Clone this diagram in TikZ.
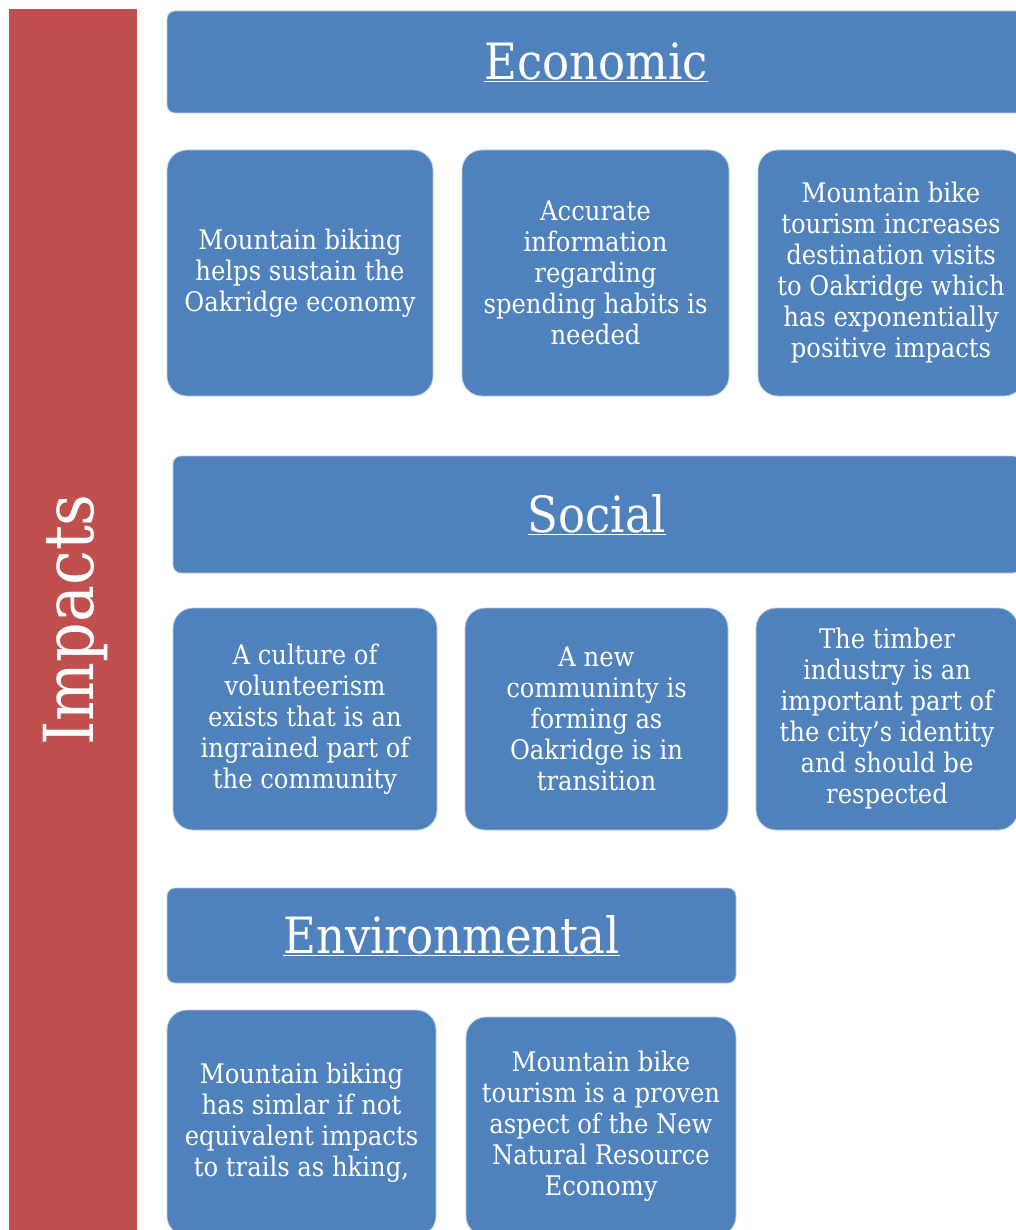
\documentclass[tikz,border=0pt]{standalone}
\usepackage{fontspec}
\setmainfont{DejaVu Serif Condensed}
\definecolor{blueA}{HTML}{4F81BD}
\definecolor{blueEdge}{HTML}{B9CDE5}
\definecolor{redA}{HTML}{C0504D}
\begin{document}
\begin{tikzpicture}[x=1pt,y=-1pt,
  boxbase/.style={fill=blueA, draw=blueEdge, line width=0.8pt, text=white, align=center, inner sep=0pt},
  header/.style={boxbase, rounded corners=8pt, font=\fontsize{50}{58}\selectfont},
  item/.style={boxbase, rounded corners=20pt, font=\fontsize{27}{31}\selectfont},
  bar/.style={fill=redA, draw=none, inner sep=0pt},
  bartext/.style={text=white, inner sep=0pt, font=\fontsize{69}{74}\selectfont}
]
\useasboundingbox (0,0) rectangle (1016,1230);
\clip (0,0) rectangle (1016,1230);

\node[bar, minimum width=128pt, minimum height=1222pt] (impactsbar) at (73,620) {};
\node[bartext, rotate=90] (impacts) at (76,620) {Impacts};

\node[header, minimum width=858pt, minimum height=102pt] (econ) at (596,62) {\underline{Economic}};
\node[item, minimum width=266pt, minimum height=246pt] (e1) at (300,273) {Mountain biking\\helps sustain the\\Oakridge economy};
\node[item, minimum width=267pt, minimum height=246pt] (e2) at (595.5,273) {Accurate\\information\\regarding\\spending habits is\\needed};
\node[item, minimum width=266pt, minimum height=246pt] (e3) at (891,273) {Mountain bike\\tourism increases\\destination visits\\to Oakridge which\\has exponentially\\positive impacts};

\node[header, minimum width=848pt, minimum height=117pt] (soc) at (597,514.5) {\underline{Social}};
\node[item, minimum width=264pt, minimum height=222pt] (s1) at (305,719) {A culture of\\volunteerism\\exists that is an\\ingrained part of\\the community};
\node[item, minimum width=263pt, minimum height=222pt] (s2) at (596.5,719) {A new\\communinty is\\forming as\\Oakridge is in\\transition};
\node[item, minimum width=262pt, minimum height=222pt] (s3) at (887,719) {The timber\\industry is an\\important part of\\the city’s identity\\and should be\\respected};

\node[header, minimum width=569pt, minimum height=95pt] (env) at (451.5,935.5) {\underline{Environmental}};
\node[item, minimum width=269pt, minimum height=226pt] (n1) at (301.5,1123) {Mountain biking\\has simlar if not\\equivalent impacts\\to trails as hking,};
\node[item, minimum width=270pt, minimum height=219pt] (n2) at (601,1126.5) {Mountain bike\\tourism is a proven\\aspect of the New\\Natural Resource\\Economy};
\end{tikzpicture}
\end{document}
